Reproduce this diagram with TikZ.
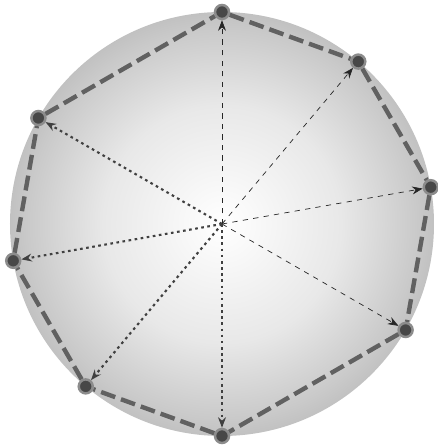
\documentclass[tikz,border=0pt]{standalone}
\usetikzlibrary{arrows.meta}
\definecolor{discmid}{gray}{0.91}
\definecolor{discrim}{gray}{0.79}
\definecolor{discnear}{gray}{0.75}
\definecolor{discedge}{gray}{0.71}
\pgfdeclareradialshading{disc}{\pgfpoint{0bp}{0bp}}{color(0bp)=(white);
  color(14bp)=(discmid); color(23bp)=(discrim); color(25.5bp)=(discnear);
  color(28bp)=(discedge); color(50bp)=(discedge)}
\tikzset{
  vertex/.style={circle, fill=black!72, draw=black!45, line width=1.4pt,
    minimum size=0.28cm, inner sep=0pt},
  side/.style={black!62, line width=2.5pt, dash pattern=on 8.5pt off 3.5pt},
  ray/.style={dashed, black!85, thin, -{Stealth[length=6pt,width=4.5pt]}},
  dotray/.style={black!75, line width=1.2pt, dash pattern=on 1.5pt off 2pt,
    -{Stealth[length=6pt,width=4.5pt]}}
}

\begin{document}
\begin{tikzpicture}[semithick]
    \useasboundingbox (-4.44,-4.48) rectangle (4.30,4.48);
    \shade[shading=disc] (0,0) circle (4.24);

    \coordinate (o) at (0,0);
    \node[vertex] (a) at (90:4.24) {};
    \node[vertex] (b) at (50:4.24) {};
    \node[vertex] (c) at (10:4.24) {};
    \node[vertex] (d) at (-30:4.24) {};
    \node[vertex] (e) at (-90:4.24) {};
    \node[vertex] (f) at (-130:4.24) {};
    \node[vertex] (g) at (-170:4.24) {};
    \node[vertex] (h) at (150:4.24) {};

    % sides of the polygon
    \draw[side] (a) -- (b);
    \draw[side] (b) -- (c);
    \draw[side] (c) -- (d);
    \draw[side] (d) -- (e);
    \draw[side] (e) -- (f);
    \draw[side] (f) -- (g);
    \draw[side] (g) -- (h);
    \draw[side] (h) -- (a);

    % rays from the centre
    \draw[ray] (o) -- (a);
    \draw[ray] (o) -- (b);
    \draw[ray] (o) -- (c);
    \draw[ray] (o) -- (d);
    \draw[dotray] (o) -- (e);
    \draw[dotray] (o) -- (f);
    \draw[dotray] (o) -- (g);
    \draw[dotray] (o) -- (h);
  \end{tikzpicture}
\end{document}
